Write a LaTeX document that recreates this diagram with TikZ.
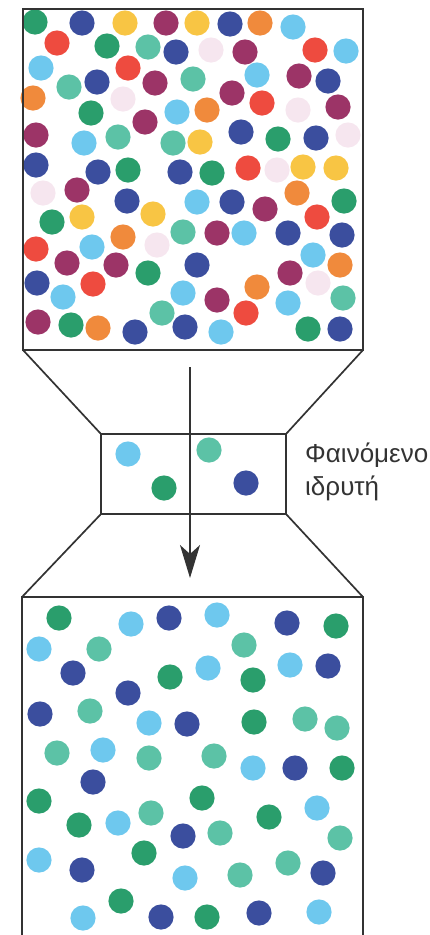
\documentclass[tikz,border=0pt]{standalone}
\usepackage{fontspec}
\setmainfont{Liberation Sans}
\usetikzlibrary{arrows.meta}
\definecolor{cGr}{HTML}{2A9E6C}
\definecolor{cTe}{HTML}{5CC2A6}
\definecolor{cNv}{HTML}{3B4E9E}
\definecolor{cLb}{HTML}{6EC8EE}
\definecolor{cRd}{HTML}{EE4B3F}
\definecolor{cOr}{HTML}{F08A3C}
\definecolor{cYe}{HTML}{F8C544}
\definecolor{cMa}{HTML}{9C3467}
\definecolor{cPk}{HTML}{F6E6EF}
\definecolor{cLine}{HTML}{333333}
\tikzset{
  frame/.style={draw=cLine, line width=1.7pt, line join=miter},
  funnel/.style={draw=cLine, line width=1.7pt},
  flow/.style={draw=cLine, line width=1.8pt, -{Stealth[length=33pt,width=20pt,inset=9pt]}},
  label/.style={text=cLine, font=\fontsize{26}{33}\selectfont, inner sep=0pt}
}
\newcommand\dotat[3]{\fill[#1] (#2,#3) circle[radius=12.6];}
\begin{document}
\begin{tikzpicture}[x=1pt,y=-1pt]
\useasboundingbox (0,0) rectangle (430,935);
% corners
\coordinate (tTL) at (23,9);
\coordinate (tTR) at (363,9);
\coordinate (tBL) at (23,350);
\coordinate (tBR) at (363,350);
\coordinate (mTL) at (101,434);
\coordinate (mTR) at (286,434);
\coordinate (mBL) at (101,514);
\coordinate (mBR) at (286,514);
\coordinate (bTL) at (22,597);
\coordinate (bTR) at (363,597);
\coordinate (bBL) at (22,940);
\coordinate (bBR) at (363,940);
\coordinate (aS) at (190,367);
\coordinate (aE) at (190,578);

% top box dots
\dotat{cGr}{35}{22}
\dotat{cNv}{82}{23}
\dotat{cYe}{125}{23}
\dotat{cMa}{166}{23}
\dotat{cYe}{197}{23}
\dotat{cNv}{230}{24}
\dotat{cOr}{260}{23}
\dotat{cLb}{293}{27}
\dotat{cRd}{57}{43}
\dotat{cGr}{107}{46}
\dotat{cTe}{148}{47}
\dotat{cNv}{176}{52}
\dotat{cPk}{211}{50}
\dotat{cMa}{245}{52}
\dotat{cRd}{315}{50}
\dotat{cLb}{346}{51}
\dotat{cLb}{41}{68}
\dotat{cRd}{128}{68}
\dotat{cTe}{69}{87}
\dotat{cNv}{97}{82}
\dotat{cMa}{155}{83}
\dotat{cTe}{193}{79}
\dotat{cLb}{257}{75}
\dotat{cMa}{232}{93}
\dotat{cMa}{299}{76}
\dotat{cNv}{328}{81}
\dotat{cOr}{33}{98}
\dotat{cPk}{123}{99}
\dotat{cGr}{91}{113}
\dotat{cMa}{145}{122}
\dotat{cLb}{177}{112}
\dotat{cOr}{207}{110}
\dotat{cRd}{262}{103}
\dotat{cPk}{298}{110}
\dotat{cMa}{338}{107}
\dotat{cMa}{36}{135}
\dotat{cLb}{84}{143}
\dotat{cTe}{118}{137}
\dotat{cTe}{173}{143}
\dotat{cYe}{200}{142}
\dotat{cNv}{241}{132}
\dotat{cGr}{278}{139}
\dotat{cNv}{316}{138}
\dotat{cPk}{348}{135}
\dotat{cNv}{36}{165}
\dotat{cNv}{98}{172}
\dotat{cGr}{128}{170}
\dotat{cNv}{180}{172}
\dotat{cGr}{212}{173}
\dotat{cRd}{248}{168}
\dotat{cPk}{277}{170}
\dotat{cYe}{303}{167}
\dotat{cYe}{336}{168}
\dotat{cPk}{43}{193}
\dotat{cMa}{77}{190}
\dotat{cNv}{127}{201}
\dotat{cLb}{197}{202}
\dotat{cNv}{232}{202}
\dotat{cMa}{265}{209}
\dotat{cOr}{297}{193}
\dotat{cGr}{344}{201}
\dotat{cRd}{317}{217}
\dotat{cGr}{52}{222}
\dotat{cYe}{82}{217}
\dotat{cYe}{153}{214}
\dotat{cTe}{183}{232}
\dotat{cMa}{217}{233}
\dotat{cLb}{244}{233}
\dotat{cNv}{288}{233}
\dotat{cNv}{342}{235}
\dotat{cRd}{36}{249}
\dotat{cLb}{92}{247}
\dotat{cOr}{123}{237}
\dotat{cPk}{157}{245}
\dotat{cLb}{313}{255}
\dotat{cOr}{340}{265}
\dotat{cMa}{67}{263}
\dotat{cMa}{116}{265}
\dotat{cGr}{148}{273}
\dotat{cNv}{197}{265}
\dotat{cMa}{290}{273}
\dotat{cPk}{318}{283}
\dotat{cNv}{37}{283}
\dotat{cRd}{93}{284}
\dotat{cLb}{63}{297}
\dotat{cLb}{183}{293}
\dotat{cOr}{257}{287}
\dotat{cMa}{217}{300}
\dotat{cLb}{288}{303}
\dotat{cTe}{343}{298}
\dotat{cRd}{246}{313}
\dotat{cTe}{162}{313}
\dotat{cMa}{38}{322}
\dotat{cGr}{71}{325}
\dotat{cOr}{98}{328}
\dotat{cNv}{135}{332}
\dotat{cNv}{185}{327}
\dotat{cLb}{221}{332}
\dotat{cGr}{308}{329}
\dotat{cNv}{340}{329}

% middle box dots
\dotat{cLb}{128}{454}
\dotat{cTe}{209}{450}
\dotat{cGr}{164}{488}
\dotat{cNv}{246}{483}

% bottom box dots
\dotat{cGr}{59}{618}
\dotat{cLb}{131}{624}
\dotat{cNv}{169}{618}
\dotat{cLb}{217}{615}
\dotat{cNv}{287}{623}
\dotat{cGr}{336}{626}
\dotat{cLb}{39}{649}
\dotat{cTe}{99}{649}
\dotat{cTe}{244}{645}
\dotat{cNv}{73}{673}
\dotat{cGr}{170}{677}
\dotat{cLb}{208}{668}
\dotat{cLb}{290}{665}
\dotat{cNv}{328}{666}
\dotat{cGr}{253}{680}
\dotat{cNv}{128}{693}
\dotat{cNv}{40}{714}
\dotat{cTe}{90}{711}
\dotat{cLb}{149}{723}
\dotat{cNv}{187}{724}
\dotat{cGr}{254}{722}
\dotat{cTe}{305}{719}
\dotat{cTe}{337}{728}
\dotat{cTe}{57}{753}
\dotat{cLb}{103}{750}
\dotat{cTe}{149}{758}
\dotat{cTe}{214}{756}
\dotat{cLb}{253}{768}
\dotat{cNv}{295}{768}
\dotat{cGr}{342}{768}
\dotat{cNv}{93}{782}
\dotat{cGr}{39}{801}
\dotat{cGr}{202}{798}
\dotat{cGr}{79}{825}
\dotat{cLb}{118}{823}
\dotat{cTe}{151}{813}
\dotat{cGr}{269}{817}
\dotat{cLb}{317}{808}
\dotat{cNv}{183}{836}
\dotat{cTe}{220}{833}
\dotat{cTe}{340}{838}
\dotat{cLb}{39}{860}
\dotat{cNv}{82}{870}
\dotat{cGr}{144}{853}
\dotat{cTe}{288}{863}
\dotat{cNv}{323}{873}
\dotat{cLb}{185}{878}
\dotat{cTe}{240}{875}
\dotat{cGr}{121}{901}
\dotat{cLb}{83}{918}
\dotat{cNv}{161}{917}
\dotat{cGr}{207}{917}
\dotat{cNv}{259}{913}
\dotat{cLb}{319}{912}

% frames
\draw[frame] (tTL) rectangle (tBR);
\draw[frame] (mTL) rectangle (mBR);
\draw[frame] (bBL) -- (bTL) -- (bTR) -- (bBR);
% funnel lines
\draw[funnel] (tBL) -- (mTL);
\draw[funnel] (tBR) -- (mTR);
\draw[funnel] (mBL) -- (bTL);
\draw[funnel] (mBR) -- (bTR);
% arrow
\draw[flow] (aS) -- (aE);
% label
\node[label, anchor=base west] (lab1) at (305,462) {Φαινόμενο};
\node[label, anchor=base west] (lab2) at (305,495) {ιδρυτή};
\end{tikzpicture}
\end{document}
